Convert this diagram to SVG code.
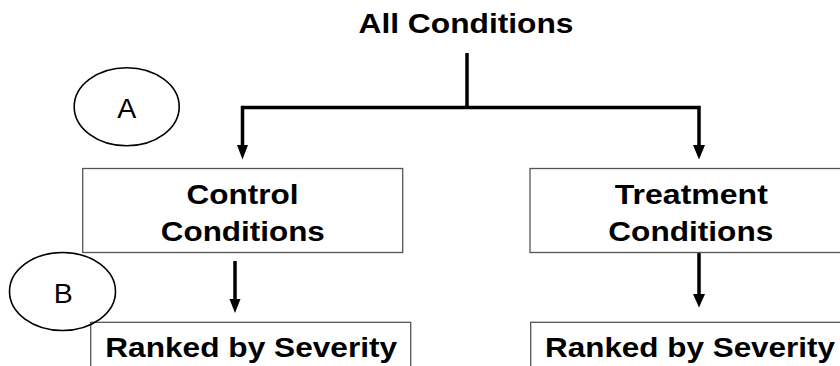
<svg xmlns="http://www.w3.org/2000/svg" width="840" height="366" viewBox="0 0 840 366">
<style>
.box{fill:#fff;stroke:#555;stroke-width:1.3}
.ell{fill:none;stroke:#000;stroke-width:1.6}
.t{font-family:"Liberation Sans",Arial,sans-serif;font-weight:bold;font-size:28.5px;fill:#000;text-anchor:middle}
.l{font-family:"Liberation Sans",Arial,sans-serif;font-size:28.5px;fill:#000;text-anchor:middle}
.c{fill:none;stroke:#000;stroke-width:3.5}
.ah{fill:#000}
</style>
<rect width="840" height="366" fill="#fff"/>
<g id="connectors">
<path class="c" d="M467,53 V107.5"/>
<path class="c" d="M242.5,148 V107.5 H699 V148" stroke-linejoin="miter"/>
<polygon class="ah" points="237,145 248,145 242.5,159.5"/>
<polygon class="ah" points="693,145 705,145 699,159.5"/>
<path class="c" d="M235,261 V300"/>
<polygon class="ah" points="229.5,299 240.5,299 235,313"/>
<path class="c" d="M699,252 V297"/>
<polygon class="ah" points="693,294 705,294 699,307.5"/>
</g>
<g id="all-conditions">
<text class="t" x="466" y="33.3" textLength="215" lengthAdjust="spacingAndGlyphs">All Conditions</text>
</g>
<g id="control">
<rect class="box" x="82.7" y="168.5" width="320" height="84"/>
<text class="t" x="242.5" y="204" textLength="112" lengthAdjust="spacingAndGlyphs">Control</text>
<text class="t" x="242.8" y="240.7" textLength="164" lengthAdjust="spacingAndGlyphs">Conditions</text>
</g>
<g id="treatment">
<rect class="box" x="530" y="168.5" width="322" height="84"/>
<text class="t" x="691.3" y="204" textLength="153" lengthAdjust="spacingAndGlyphs">Treatment</text>
<text class="t" x="690.8" y="240.7" textLength="165" lengthAdjust="spacingAndGlyphs">Conditions</text>
</g>
<g id="ranked-control">
<rect class="box" x="90.7" y="322.3" width="320" height="60"/>
<text class="t" x="251.2" y="356.7" textLength="292" lengthAdjust="spacingAndGlyphs">Ranked by Severity</text>
</g>
<g id="ranked-treatment">
<rect class="box" x="530.7" y="322.3" width="322" height="60"/>
<text class="t" x="690" y="356.7" textLength="290" lengthAdjust="spacingAndGlyphs">Ranked by Severity</text>
</g>
<g id="label-a">
<ellipse class="ell" cx="126.7" cy="106.7" rx="52.5" ry="39"/>
<text class="l" x="126.7" y="118.3">A</text>
</g>
<g id="label-b">
<ellipse class="ell" cx="62.5" cy="291.5" rx="53" ry="39"/>
<text class="l" x="63.3" y="303.3">B</text>
</g>
</svg>
